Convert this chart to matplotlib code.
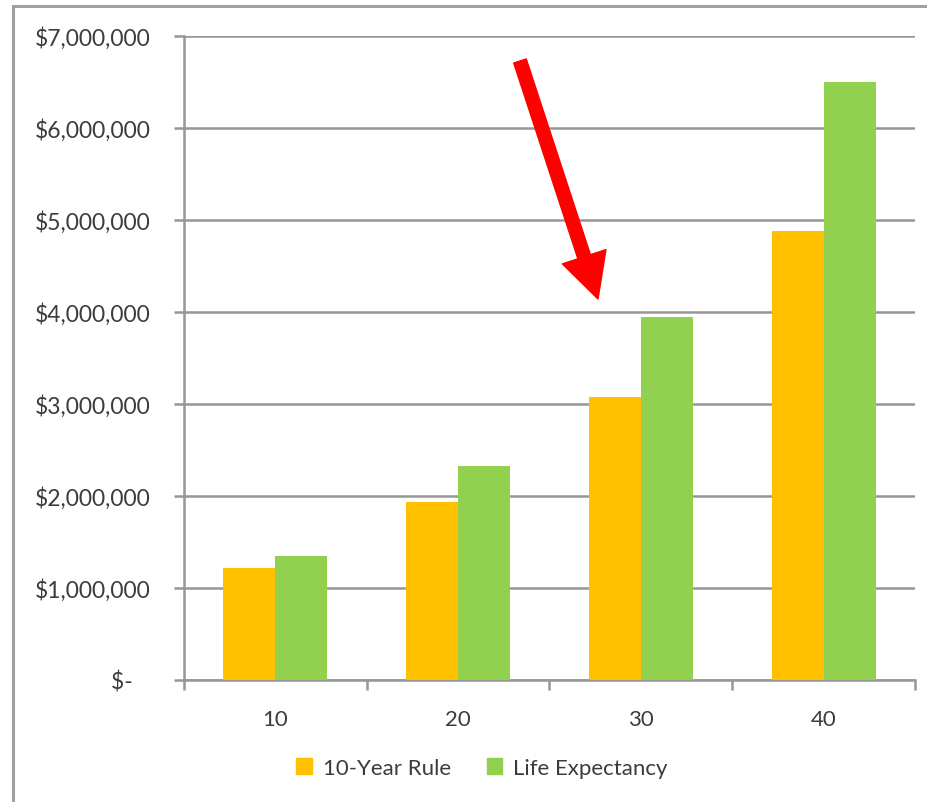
import matplotlib.pyplot as plt
from matplotlib.patches import Patch, Rectangle, FancyArrowPatch
from matplotlib.ticker import FuncFormatter, MultipleLocator
import numpy as np

plt.rcParams["font.family"] = ["Lato", "DejaVu Sans"]

categories = ["10", "20", "30", "40"]
ten_year_rule = [1220000, 1940000, 3080000, 4880000]
life_expectancy = [1350000, 2330000, 3950000, 6500000]
series_names = ["10-Year Rule", "Life Expectancy"]

ORANGE = "#FFC000"
GREEN = "#92D050"
GRID = "#979797"
TEXT = "#3c3c3c"

W, H = 928, 803
fig = plt.figure(figsize=(W / 100, H / 100), dpi=100)
ax = fig.add_axes([184 / W, 1 - 681 / H, (915 - 184) / W, (681 - 37) / H])

x = np.arange(len(categories))
bw = 0.285
ax.bar(x - bw / 2, ten_year_rule, width=bw, color=ORANGE, zorder=3)
ax.bar(x + bw / 2, life_expectancy, width=bw, color=GREEN, zorder=3)

ax.set_xlim(-0.5, len(categories) - 0.5)
ax.set_ylim(0, 7000000)
ax.yaxis.set_major_locator(MultipleLocator(1000000))


def money(v, pos):
    if v == 0:
        return "$-   "
    return f"${v:,.0f}"


ax.yaxis.set_major_formatter(FuncFormatter(money))
ax.grid(axis="y", color=GRID, linewidth=1.8, zorder=0)

ax.set_xticks(x)
ax.set_xticklabels(categories)
ax.set_xticks(np.arange(-0.5, len(categories)), minor=True)
ax.tick_params(axis="x", which="major", length=0, pad=21, labelsize=16, labelcolor=TEXT)
ax.tick_params(axis="x", which="minor", length=7, width=1.8, color=GRID, direction="out")
ax.tick_params(axis="y", length=7, width=1.8, color=GRID, pad=17, labelsize=16.5, labelcolor=TEXT)

for s in ["top", "right"]:
    ax.spines[s].set_visible(False)
for s in ["left", "bottom"]:
    ax.spines[s].set_color(GRID)
    ax.spines[s].set_linewidth(1.8)

handles = [Patch(color=ORANGE), Patch(color=GREEN)]
fig.legend(handles, series_names, loc="center", bbox_to_anchor=(482 / W, 1 - 769 / H),
           ncol=2, frameon=False, fontsize=16, handlelength=0.7, handleheight=0.7,
           handletextpad=0.5, columnspacing=1.6, labelcolor=TEXT)

# outer chart frame, cut off on the right and bottom
fig.add_artist(Rectangle((13 / W, -0.05), 1.1, 1 - 7 / H + 0.05, transform=fig.transFigure,
                         fill=False, edgecolor="#a0a0a0", linewidth=2.2, clip_on=False))

# red arrow pointing at the 30 group
arrow = FancyArrowPatch((520 / W, 1 - 62 / H), (598 / W, 1 - 300 / H),
                        transform=fig.transFigure,
                        arrowstyle="simple,tail_width=9.5,head_width=33,head_length=32",
                        color="#ff0000", shrinkA=0, shrinkB=0, mutation_scale=1)
fig.add_artist(arrow)

fig.savefig("out.png", dpi=100)
